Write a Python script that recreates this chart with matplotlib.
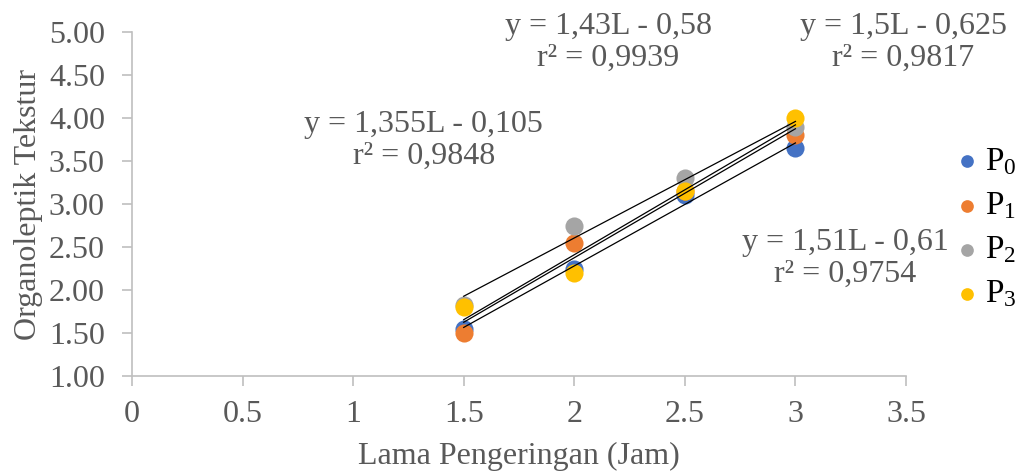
import numpy as np
import matplotlib
matplotlib.use("Agg")
import matplotlib.pyplot as plt

plt.rcParams['font.family'] = ['Liberation Serif', 'DejaVu Serif']
plt.rcParams['mathtext.fontset'] = 'custom'
plt.rcParams['mathtext.rm'] = 'Liberation Serif'
plt.rcParams['mathtext.it'] = 'Liberation Serif:italic'

# Data
lama = [1.5, 2.0, 2.5, 3.0]
p0 = [1.55, 2.25, 3.10, 3.65]
p1 = [1.50, 2.55, 3.15, 3.80]
p2 = [1.825, 2.75, 3.30, 3.90]
p3 = [1.80, 2.20, 3.15, 4.00]
series_names = ['P$_0$', 'P$_1$', 'P$_2$', 'P$_3$']
colors = ['#4472C4', '#ED7D31', '#A5A5A5', '#FFC000']
eq_texts = ['y = 1,43L - 0,58\nr² = 0,9939',
            'y = 1,5L - 0,625\nr² = 0,9817',
            'y = 1,355L - 0,105\nr² = 0,9848',
            'y = 1,51L - 0,61\nr² = 0,9754']
# label anchor positions in data coordinates (centre of text block)
eq_pos = [(2.155, 4.88), (3.487, 4.88), (1.32, 3.74), (3.225, 2.37)]

xticks = [0, 0.5, 1, 1.5, 2, 2.5, 3, 3.5]
xtick_labels = ['0', '0.5', '1', '1.5', '2', '2.5', '3', '3.5']
yticks = [1.0, 1.5, 2.0, 2.5, 3.0, 3.5, 4.0, 4.5, 5.0]

gray_text = '#595959'
spine_col = '#BFBFBF'
FS = 23

fig = plt.figure(figsize=(10.22, 4.72), dpi=100)
ax = fig.add_axes([132/1022, 1-376/472, (906-132)/1022, (376-32)/472])

all_series = [p0, p1, p2, p3]
handles = []
for ys, c, name in zip(all_series, colors, series_names):
    h = ax.scatter(lama, ys, s=170, color=c, zorder=3, label=name, linewidths=0)
    handles.append(h)

x_arr = np.array(lama)
for ys in all_series:
    m, b = np.polyfit(x_arr, np.array(ys), 1)
    xx = np.array([lama[0], lama[-1]])
    ax.plot(xx, m*xx + b, color='black', lw=0.9, zorder=4)

for txt, (tx, ty) in zip(eq_texts, eq_pos):
    ax.text(tx, ty, txt, ha='center', va='center', fontsize=FS, color=gray_text,
            linespacing=1.15, clip_on=False, zorder=5)

ax.set_xlim(0, 3.5)
ax.set_ylim(1.0, 5.0)
ax.set_xticks(xticks)
ax.set_xticklabels(xtick_labels)
ax.set_yticks(yticks)
ax.set_yticklabels([f'{v:.2f}' for v in yticks])
ax.tick_params(axis='both', colors=spine_col, labelcolor=gray_text, labelsize=FS,
               length=7.5, width=1.2, direction='out')
ax.tick_params(axis='x', pad=10)
ax.tick_params(axis='y', pad=12)
for side in ['top', 'right']:
    ax.spines[side].set_visible(False)
for side in ['left', 'bottom']:
    ax.spines[side].set_color(spine_col)
    ax.spines[side].set_linewidth(1.2)

ax.set_xlabel('Lama Pengeringan (Jam)', fontsize=FS, color=gray_text, labelpad=9)
ax.set_ylabel('Organoleptik Tekstur', fontsize=FS, color=gray_text, labelpad=4)

leg = fig.legend(handles=handles, labels=series_names, loc='center left',
                 bbox_to_anchor=(940/1022, 1-228/472), frameon=False, fontsize=24,
                 handletextpad=0.15, labelspacing=0.40, markerscale=0.7,
                 borderaxespad=0, handlelength=0.8)
for t in leg.get_texts():
    t.set_color('black')

fig.savefig('out.png', dpi=100)
